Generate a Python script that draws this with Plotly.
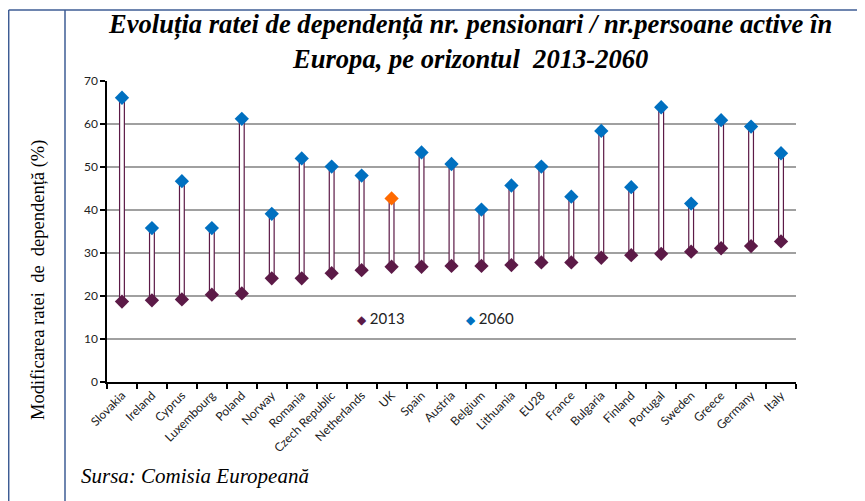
import plotly.graph_objects as go

countries = ["Slovakia", "Ireland", "Cyprus", "Luxembourg", "Poland", "Norway", "Romania",
             "Czech Republic", "Netherlands", "UK", "Spain", "Austria", "Belgium", "Lithuania",
             "EU28", "France", "Bulgaria", "Finland", "Portugal", "Sweden", "Greece", "Germany", "Italy"]
v2013 = [18.7, 19.0, 19.2, 20.3, 20.6, 24.1, 24.1, 25.3, 26.0, 26.8, 26.8, 27.0, 27.0, 27.2,
         27.8, 27.8, 28.9, 29.5, 29.8, 30.3, 31.1, 31.6, 32.7]
v2060 = [66.1, 35.8, 46.7, 35.8, 61.2, 39.1, 52.0, 50.1, 48.0, 42.7, 53.4, 50.7, 40.1, 45.7,
         50.1, 43.1, 58.4, 45.3, 63.9, 41.5, 60.9, 59.4, 53.2]
highlight = "UK"
series_names = ["2013", "2060"]

MAROON = "#5C1A47"
BLUE = "#0070C0"
ORANGE = "#FF6A00"

diff = [b - a for a, b in zip(v2013, v2060)]
colors2060 = [ORANGE if c == highlight else BLUE for c in countries]

fig = go.Figure()
fig.add_trace(go.Bar(x=countries, y=diff, base=v2013, width=0.16,
                     marker=dict(color="white", line=dict(color=MAROON, width=1.2)),
                     showlegend=False, hoverinfo="skip"))
fig.add_trace(go.Scatter(x=countries, y=v2013, mode="markers", showlegend=False, name=series_names[0],
                         marker=dict(symbol="diamond", size=11, color=MAROON)))
fig.add_trace(go.Scatter(x=countries, y=v2060, mode="markers", showlegend=False, name=series_names[1],
                         marker=dict(symbol="diamond", size=11, color=colors2060)))

# page offset (body margin of the html page)
OX, OY = 8, 8
W, H = 865 - OX, 501 - OY
L, R, T, B = 107, 796, 81, 382   # plot area in page pixels
pw, ph = R - L, B - T

def px(x):
    return (x - L) / pw

def py(y):
    return (B - y) / ph

frame = "#3E5C94"
shapes = [
    dict(type="line", xref="paper", yref="paper", x0=px(8.7), x1=px(866), y0=py(10), y1=py(10),
         line=dict(color=frame, width=1.5)),
    dict(type="line", xref="paper", yref="paper", x0=px(8.7), x1=px(8.7), y0=py(10), y1=py(502),
         line=dict(color=frame, width=1.5)),
    dict(type="line", xref="paper", yref="paper", x0=px(65), x1=px(65), y0=py(10), y1=py(502),
         line=dict(color=frame, width=1.5)),
]

legend_font = dict(family="Lato", size=15, color="#222")
annotations = [
    dict(text="<b><i>Evoluția ratei de dependență nr. pensionari / nr.persoane active în<br>Europa, pe orizontul  2013-2060</i></b>",
         xref="paper", yref="paper", x=px(470), y=py(42), xanchor="center", yanchor="middle",
         showarrow=False, font=dict(family="Liberation Serif", size=26.6, color="black")),
    dict(text="Modificarea ratei  de  dependență (%)", textangle=-90,
         xref="paper", yref="paper", x=px(38), y=py(280), xanchor="center", yanchor="middle",
         showarrow=False, font=dict(family="Liberation Serif", size=18.5, color="black")),
    dict(text="<i>Sursa: Comisia Europeană</i>",
         xref="paper", yref="paper", x=px(79), y=py(476), xanchor="left", yanchor="middle",
         showarrow=False, font=dict(family="Liberation Serif", size=21, color="black")),
    dict(text=f"<span style='color:{MAROON};font-size:12px'>◆</span> {series_names[0]}",
         xref="paper", yref="paper", x=px(355), y=py(318), xanchor="left", yanchor="middle",
         showarrow=False, font=legend_font),
    dict(text=f"<span style='color:{BLUE};font-size:12px'>◆</span> {series_names[1]}",
         xref="paper", yref="paper", x=px(464), y=py(318), xanchor="left", yanchor="middle",
         showarrow=False, font=legend_font),
]

fig.update_layout(
    width=W, height=H,
    margin=dict(l=L - OX, r=W - (R - OX), t=T - OY, b=H - (B - OY), autoexpand=False),
    paper_bgcolor="white", plot_bgcolor="white",
    shapes=shapes, annotations=annotations,
    showlegend=False,
    xaxis=dict(type="category", range=[-0.5, len(countries) - 0.5], showgrid=False,
               showline=True, linecolor="black", linewidth=1.5,
               ticks="outside", tickson="boundaries", ticklen=5, tickcolor="black", tickwidth=1.5,
               tickangle=-45, tickfont=dict(family="Lato", size=12, color="#222")),
    yaxis=dict(range=[0, 70], dtick=10, showgrid=True, gridcolor="#A0A0A0", gridwidth=1.5,
               showline=True, linecolor="black", linewidth=1.5, zeroline=False,
               ticks="outside", ticklen=5, tickcolor="black", tickwidth=1.5,
               tickfont=dict(family="Lato", size=12, color="#222")),
)

fig.write_html("out.html")
